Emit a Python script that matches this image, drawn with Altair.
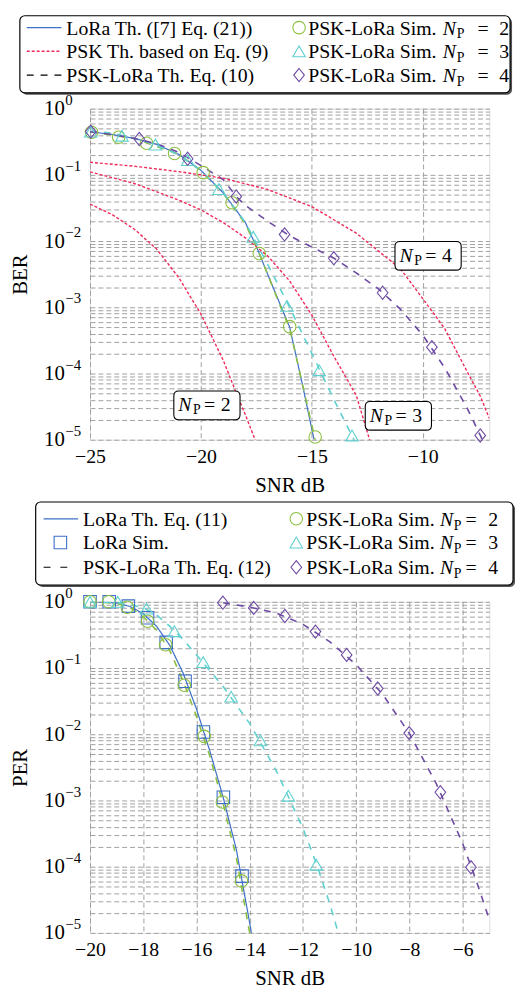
import altair as alt
import pandas as pd

FONT = "Liberation Serif"
BLUE = "#3c6fc6"
RED = "#f2295b"
GREEN = "#8cbf3f"
CYAN = "#5fd0d0"
PURPLE = "#6d4aa3"
GRID = "#a0a0a0"

# ---------------- top panel (BER) ----------------
ber_lora_th_snr = [-25, -24, -23, -22, -21, -20, -19, -18, -17.4, -17, -16.5, -16, -15.5, -14.9]
ber_lora_th = [0.447, 0.407, 0.355, 0.288, 0.204, 0.117, 0.0537, 0.0191, 6.9e-3, 3.2e-3, 1.26e-3, 5.0e-4, 8.9e-5, 1.0e-5]

ber_psk2_snr = [-25, -24, -23, -22, -21, -20, -19, -18.4, -18, -17.5]
ber_psk2 = [0.0363, 0.0251, 0.0151, 7.6e-3, 2.8e-3, 7.9e-4, 1.6e-4, 5.0e-5, 2.4e-5, 8.9e-6]
ber_psk3_snr = [-25, -23, -21, -20, -19, -18, -17, -16, -15, -14, -13, -12.35]
ber_psk3 = [0.111, 0.0741, 0.0417, 0.0295, 0.0191, 0.0112, 6.0e-3, 2.5e-3, 7.6e-4, 1.8e-4, 4.7e-5, 8.9e-6]
ber_psk4_snr = [-25, -23, -21, -19, -17, -15, -13, -11, -10, -9, -8, -7.4, -7.0]
ber_psk4 = [0.155, 0.135, 0.112, 0.0891, 0.0603, 0.0331, 0.0132, 3.8e-3, 1.35e-3, 4.7e-4, 1.07e-4, 4.5e-5, 2.1e-5]

ber_th2_snr = [-25, -23, -21, -20, -19, -18, -17.4, -17, -16.5, -16, -15.5, -14.85]
ber_th2 = [0.447, 0.355, 0.204, 0.115, 0.0525, 0.0182, 6.8e-3, 3.2e-3, 1.2e-3, 4.8e-4, 8.9e-5, 1.0e-5]
ber_th3_snr = [-25, -24, -23, -22, -21, -20, -19, -18, -17, -16, -15, -14, -13.1]
ber_th3 = [0.457, 0.427, 0.355, 0.282, 0.200, 0.117, 0.0537, 0.0191, 4.5e-3, 1.0e-3, 2.0e-4, 4.0e-5, 1.0e-5]
ber_th4_snr = [-25, -24, -23, -22, -21, -20, -19, -18.4, -18, -17, -16, -15, -14, -13, -12, -11, -10, -9, -8, -7.4, -7.0]
ber_th4 = [0.447, 0.407, 0.355, 0.295, 0.219, 0.138, 0.0851, 0.0468, 0.0347, 0.0200, 0.0120, 8.1e-3, 5.5e-3,
           3.3e-3, 1.9e-3, 9.3e-4, 3.8e-4, 1.2e-4, 3.0e-5, 1.15e-5, 6.0e-6]

ber_sim2_snr = [-24.93, -23.71, -22.45, -21.19, -19.9, -18.6, -17.37, -16.0, -14.85]
ber_sim2 = [0.44, 0.37, 0.30, 0.21, 0.108, 0.038, 6.5e-3, 5.1e-4, 1.1e-5]
ber_sim3_snr = [-24.97, -23.56, -22.05, -20.6, -19.19, -17.64, -16.12, -14.67, -13.19]
ber_sim3 = [0.45, 0.39, 0.287, 0.167, 0.061, 0.0116, 1.05e-3, 1.12e-4, 1.16e-5]
ber_sim4_snr = [-24.97, -22.78, -20.6, -18.41, -16.23, -14.01, -11.81, -9.59, -7.41]
ber_sim4 = [0.45, 0.348, 0.175, 0.047, 0.0126, 5.5e-3, 1.66e-3, 2.5e-4, 1.16e-5]

ann_snr = [-19.73, -11.1, -9.76]
ann_ber = [3.3e-5, 2.3e-5, 6.0e-3]
ann_np = ["2", "3", "4"]

# ---------------- bottom panel (PER) ----------------
per_lora_th_snr = [-20, -19.5, -19, -18.5, -18, -17.5, -17, -16.5, -16, -15.5, -15, -14.5, -14, -13.9]
per_lora_th = [1.0, 0.989, 0.955, 0.851, 0.661, 0.427, 0.219, 0.0832, 0.024, 5.6e-3, 1.12e-3, 1.78e-4, 1.4e-5, 7.9e-6]
per_th2_snr = [-20, -19, -18.5, -18, -17.5, -17, -16.5, -16, -15.5, -15, -14.5, -14.05, -13.95]
per_th2 = [1.0, 0.955, 0.813, 0.603, 0.372, 0.182, 0.063, 0.0186, 4.7e-3, 8.9e-4, 1.35e-4, 1.26e-5, 7.9e-6]
per_th3_snr = [-20, -19, -18.5, -18, -17.5, -17, -16.5, -16, -15, -14, -13, -12, -11.5, -11, -10.6]
per_th3 = [1.0, 0.977, 0.912, 0.813, 0.631, 0.427, 0.269, 0.158, 0.0525, 0.0145, 2.8e-3, 3.8e-4, 1.12e-4, 2.8e-5, 7.9e-6]
per_th4_snr = [-15.0, -14, -13, -12, -11, -10, -9, -8, -7, -6, -5.5, -5]
per_th4 = [0.966, 0.832, 0.676, 0.457, 0.251, 0.112, 0.0398, 0.0102, 1.82e-3, 2.24e-4, 6.3e-5, 1.6e-5]

per_lora_sim_snr = [-20, -19.28, -18.56, -17.84, -17.14, -16.43, -15.74, -14.99, -14.29]
per_lora_sim = [1.0, 1.0, 0.86, 0.575, 0.244, 0.063, 0.0108, 1.12e-3, 7.2e-5]
per_sim2_snr = [-20, -19.3, -18.6, -17.84, -17.16, -16.46, -15.71, -15.03, -14.31]
per_sim2 = [1.0, 1.0, 0.83, 0.51, 0.225, 0.055, 9.3e-3, 9.5e-4, 6.1e-5]
per_sim3_snr = [-20, -18.96, -17.88, -16.83, -15.75, -14.7, -13.6, -12.55, -11.5]
per_sim3 = [1.0, 1.0, 0.79, 0.36, 0.123, 0.037, 8.1e-3, 1.18e-3, 1.07e-4]
per_sim4_snr = [-15.01, -13.85, -12.68, -11.53, -10.36, -9.19, -8.01, -6.84, -5.69]
per_sim4 = [0.97, 0.81, 0.61, 0.355, 0.158, 0.049, 0.0104, 1.33e-3, 9.8e-5]

# y tick labels: base "10" with a superscript exponent
ytick_values = [1, 0.1, 0.01, 0.001, 0.0001, 0.00001]
ytick_exponents = ["0", "\u22121", "\u22122", "\u22123", "\u22124", "\u22125"]

top_legend_left = ["LoRa Th. ([7] Eq. (21))", "PSK Th. based on Eq. (9)", "PSK-LoRa Th. Eq. (10)"]
bot_legend_left = ["LoRa Th. Eq. (11)", "LoRa Sim.", "PSK-LoRa Th. Eq. (12)"]
sim_label = "PSK-LoRa Sim."
np_values = ["2", "3", "4"]


def curve(snr, v, c, dash, cid):
    return pd.DataFrame({"snr": snr, "v": v, "c": c, "dash": dash, "id": cid})


def points(snr, v, c):
    return pd.DataFrame({"snr": snr, "v": v, "c": c})


top_lines = pd.concat([
    curve(ber_lora_th_snr, ber_lora_th, "LoRa", "solid", "lora"),
    curve(ber_th2_snr, ber_th2, "NP2", "dashed", "th2"),
    curve(ber_th3_snr, ber_th3, "NP3", "dashed", "th3"),
    curve(ber_th4_snr, ber_th4, "NP4", "dashed", "th4"),
    curve(ber_psk2_snr, ber_psk2, "PSK", "dotted", "psk2"),
    curve(ber_psk3_snr, ber_psk3, "PSK", "dotted", "psk3"),
    curve(ber_psk4_snr, ber_psk4, "PSK", "dotted", "psk4"),
])
top_pts = pd.concat([
    points(ber_sim2_snr, ber_sim2, "NP2"),
    points(ber_sim3_snr, ber_sim3, "NP3"),
    points(ber_sim4_snr, ber_sim4, "NP4"),
])
top_ann = pd.DataFrame({"snr": ann_snr, "v": ann_ber, "k": ann_np})

bot_lines = pd.concat([
    curve(per_lora_th_snr, per_lora_th, "LoRa", "solid", "lora"),
    curve(per_th2_snr, per_th2, "NP2", "dashed", "th2"),
    curve(per_th3_snr, per_th3, "NP3", "dashed", "th3"),
    curve(per_th4_snr, per_th4, "NP4", "dashed", "th4"),
])
bot_pts = pd.concat([
    points(per_lora_sim_snr, per_lora_sim, "LoRa"),
    points(per_sim2_snr, per_sim2, "NP2"),
    points(per_sim3_snr, per_sim3, "NP3"),
    points(per_sim4_snr, per_sim4, "NP4"),
])
exp_df = pd.DataFrame({"v": ytick_values, "e": ytick_exponents})

DIAMOND = "M0,-1.05L0.85,0L0,1.05L-0.85,0Z"
BOXPATH = ("M-0.85,-0.433L0.85,-0.433Q1,-0.433 1,-0.283L1,0.283Q1,0.433 0.85,0.433"
           "L-0.85,0.433Q-1,0.433 -1,0.283L-1,-0.283Q-1,-0.433 -0.85,-0.433Z")

color_enc = alt.Color("c:N", legend=None, scale=alt.Scale(
    domain=["LoRa", "PSK", "NP2", "NP3", "NP4"], range=[BLUE, RED, GREEN, CYAN, PURPLE]))
dash_enc = alt.StrokeDash("dash:N", legend=None, scale=alt.Scale(
    domain=["solid", "dotted", "dashed"], range=[[1, 0], [3, 2], [7, 7]]))
width_enc = alt.StrokeWidth("dash:N", legend=None, scale=alt.Scale(
    domain=["solid", "dotted", "dashed"], range=[1.2, 1.6, 1.2]))
shape_enc = alt.Shape("c:N", legend=None, scale=alt.Scale(
    domain=["LoRa", "NP2", "NP3", "NP4"], range=["square", "circle", "triangle-up", DIAMOND]))

yvals = [m * 10 ** e for e in range(-5, 0) for m in range(1, 10)] + [1]
ylabel_expr = "indexof([1,0.1,0.01,0.001,0.0001,0.00001], datum.value) >= 0 ? '10' : ''"

axis_common = dict(grid=True, gridDash=[5, 3], gridColor=GRID, gridWidth=1, domain=False, ticks=False,
                   labelFont=FONT, labelColor="black", titleFont=FONT,
                   titleFontSize=21, titleFontWeight="normal", titleColor="black", labelOverlap=False)


def enc_xy(xdom, xvals, ytitle):
    x = alt.X("snr:Q", scale=alt.Scale(domain=xdom, nice=False, zero=False),
              axis=alt.Axis(values=xvals, format="d", title="SNR dB", labelPadding=7, labelFlush=False,
                            labelFontSize=20, titleY=35, titleBaseline="top", **axis_common))
    y = alt.Y("v:Q", scale=alt.Scale(type="log", domain=[1e-5, 1], nice=False),
              axis=alt.Axis(values=yvals, labelExpr=ylabel_expr, title=ytitle, labelPadding=47,
                            labelAlign="left", labelFontSize=21, labelBaseline="middle",
                            titleX=-70, titleBaseline="middle", **axis_common))
    return x, y


def exponents(y):
    return alt.Chart(exp_df).mark_text(align="left", baseline="alphabetic", font=FONT, fontSize=15,
                                       dy=-4, color="black").encode(x=alt.value(-25), y=y, text="e:N")


def t(s, x, y, size=20, style="normal"):
    return alt.Chart().mark_text(text=s, align="left", baseline="alphabetic", font=FONT, fontSize=size,
                                 fontStyle=style, color="black").encode(x=alt.value(x), y=alt.value(y))


def legend(box, rows, left, left_text_x, right_x):
    x1, x2, y1, y2 = box
    layers = [
        alt.Chart().mark_rect(cornerRadius=5, color="#555555").encode(
            x=alt.value(x1 + 2), x2=alt.value(x2 + 2), y=alt.value(y1 + 2), y2=alt.value(y2 + 2)),
        alt.Chart().mark_rect(cornerRadius=5, fill="white", stroke="black", strokeWidth=1.2).encode(
            x=alt.value(x1), x2=alt.value(x2), y=alt.value(y1), y2=alt.value(y2)),
    ]
    for (label, kind, col, extra), yb in zip(left, rows):
        ym = yb - 7
        if kind == "line":
            layers.append(alt.Chart().mark_rule(color=col, strokeDash=extra[2], strokeWidth=extra[3]).encode(
                x=alt.value(extra[0]), x2=alt.value(extra[1]), y=alt.value(ym)))
        else:
            layers.append(alt.Chart().mark_point(shape=kind, size=160, color=col, filled=False, opacity=1,
                                                 strokeWidth=1.1).encode(x=alt.value(extra), y=alt.value(ym)))
        layers.append(t(label, left_text_x, yb))
    mx, tx, nx, px, ex, dx = right_x
    for (shp, col), k, yb in zip([("circle", GREEN), ("triangle-up", CYAN), (DIAMOND, PURPLE)], np_values, rows):
        layers.append(alt.Chart().mark_point(shape=shp, size=160, color=col, filled=False, opacity=1,
                                             strokeWidth=1.1).encode(x=alt.value(mx), y=alt.value(yb - 7)))
        layers.append(t(sim_label, tx, yb))
        layers.append(t("N", nx, yb, style="italic"))
        layers.append(t("P", px, yb + 4, size=14))
        layers.append(t("=", ex, yb))
        layers.append(t(k, dx, yb))
    return layers


# ---- top chart ----
xt, yt = enc_xy([-25, -7], [-25, -20, -15, -10], "BER")
top_layers = [
    alt.Chart().mark_rect(opacity=0).encode(x=alt.value(-82), x2=alt.value(-81), y=alt.value(-94), y2=alt.value(-93)),
    alt.Chart(top_lines).mark_line(clip=True).encode(
        x=xt, y=yt, color=color_enc, strokeDash=dash_enc, strokeWidth=width_enc, detail="id:N"),
    alt.Chart(top_pts).mark_point(filled=False, size=160, strokeWidth=1.1, opacity=1).encode(
        x=xt, y=yt, color=color_enc, shape=shape_enc),
    alt.Chart(top_ann).mark_point(shape=BOXPATH, size=4489, filled=True, fill="white", stroke="black",
                                  strokeWidth=1.1, opacity=1).encode(x=xt, y=yt),
    alt.Chart(top_ann).mark_text(text="N", align="left", baseline="alphabetic", font=FONT, fontSize=20,
                                 fontStyle="italic", dx=-29, dy=6, color="black").encode(x=xt, y=yt),
    alt.Chart(top_ann).mark_text(text="P", align="left", baseline="alphabetic", font=FONT, fontSize=14,
                                 dx=-14, dy=9, color="black").encode(x=xt, y=yt),
    alt.Chart(top_ann).mark_text(text="=", align="left", baseline="alphabetic", font=FONT, fontSize=20,
                                 dx=-3, dy=6, color="black").encode(x=xt, y=yt),
    alt.Chart(top_ann).mark_text(align="left", baseline="alphabetic", font=FONT, fontSize=20,
                                 dx=14, dy=6, color="black").encode(x=xt, y=yt, text="k:N"),
    exponents(yt),
]
top_leg_left = [
    (top_legend_left[0], "line", BLUE, (-64, -29, [1, 0], 1.2)),
    (top_legend_left[1], "line", RED, (-64, -29, [3, 2], 1.6)),
    (top_legend_left[2], "line", "black", (-64, -29, [7, 7], 1.2)),
]
top_layers += legend((-71, 425, -94, -16), [-75, -51, -27], top_leg_left, -24, (211.5, 220.7, 357, 371, 392, 414))
top = alt.layer(*top_layers).properties(width=404, height=335)

# ---- bottom chart ----
xb, yb_ = enc_xy([-20, -5], [-20, -18, -16, -14, -12, -10, -8, -6], "PER")
bot_layers = [
    alt.Chart(bot_lines).mark_line(clip=True).encode(
        x=xb, y=yb_, color=color_enc, strokeDash=dash_enc, strokeWidth=width_enc, detail="id:N"),
    alt.Chart(bot_pts).mark_point(filled=False, size=160, strokeWidth=1.1, opacity=1).encode(
        x=xb, y=yb_, color=color_enc, shape=shape_enc),
    exponents(yb_),
]
bot_leg_left = [
    (bot_legend_left[0], "line", BLUE, (-47, -12, [1, 0], 1.2)),
    (bot_legend_left[1], "square", BLUE, -30),
    (bot_legend_left[2], "line", "black", (-47, -16, [7, 10], 1.2)),
]
bot_layers += legend((-55, 428, -101, -17), [-77, -53, -28], bot_leg_left, -7, (208.7, 218.7, 354, 368, 380, 403))
bottom = alt.layer(*bot_layers).properties(width=404, height=335)

chart = alt.vconcat(top, bottom, spacing=4).properties(padding=0).configure_view(
    stroke="black", strokeWidth=1.2).configure(font=FONT, background="white")

chart.save("out.html", embed_options={"renderer": "svg", "actions": False})
